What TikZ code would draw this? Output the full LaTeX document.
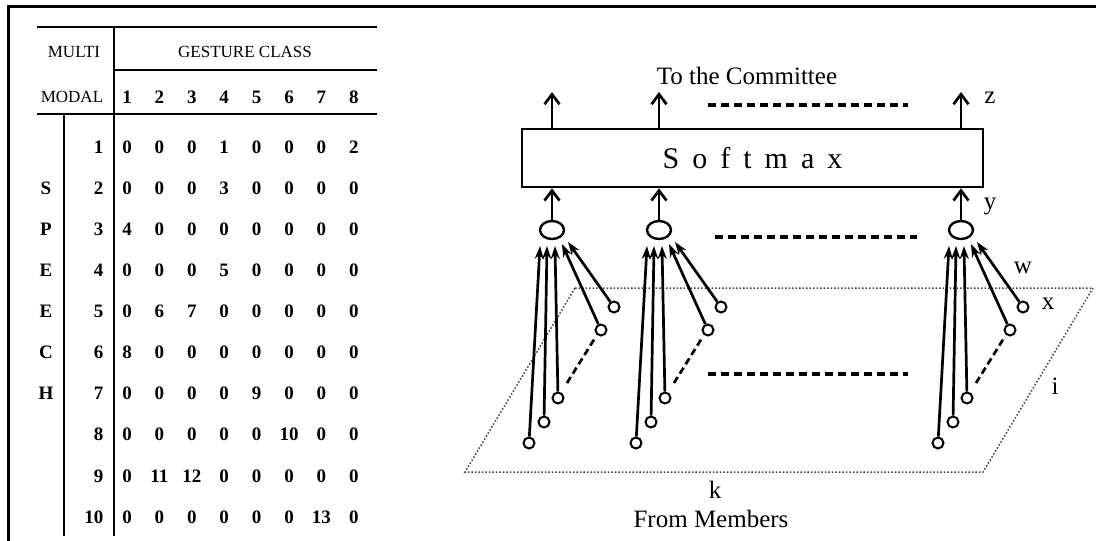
\documentclass[tikz,border=0pt]{standalone}
\usepackage{fontspec}
\setmainfont{Liberation Serif}
\usetikzlibrary{arrows.meta,positioning,shapes.geometric}
\tikzset{
  neuron/.style={ellipse,draw,line width=2.4pt,minimum width=24pt,minimum height=18pt,inner sep=0pt},
  inpt/.style={circle,draw,line width=2pt,minimum size=11pt,inner sep=0pt},
  smbox/.style={draw,line width=2.6pt,minimum width=461pt,minimum height=58pt,inner sep=0pt},
  wire/.style={line width=2.7pt},
  arr/.style={wire,-{Stealth[length=13pt,width=9pt]}},
  uparr/.style={wire,-{Straight Barb[length=10pt,width=15pt,line width=2.7pt]}},
  gapline/.style={line width=3.6pt,dash pattern=on 8pt off 5pt},
  lbl/.style={font=\fontsize{25}{29}\selectfont},
  tabnum/.style={font=\fontsize{19}{22}\selectfont\bfseries},
  hd/.style={font=\fontsize{17}{20}\selectfont},
  tabrule/.style={line width=2.3pt}
}
\begin{document}
\begin{tikzpicture}[x=1pt,y=-1pt]
  \useasboundingbox (0,0) rectangle (1096,541);
  % frame
  \draw[line width=3pt] (8,541) -- (8,6) -- (1096,6);

  % table
  \draw[tabrule] (37,27) -- (377,27);
  \draw[tabrule] (114,70) -- (377,70);
  \draw[tabrule] (37,114) -- (377,114);
  \draw[tabrule] (114,27) -- (114,536);
  \draw[tabrule] (64,114) -- (64,536);
  \node[hd] (multi) at (74,52) {MULTI};
  \node[hd] (modal) at (72,97) {MODAL};
  \node[hd] (gclass) at (245,52) {GESTURE CLASS};
  \foreach \c in {1,...,8}
    \node[tabnum] (h\c) at ({127+32.4*(\c-1)},97) {\c};
  \foreach \r/\vals in {1/{0,0,0,1,0,0,0,2},2/{0,0,0,3,0,0,0,0},3/{4,0,0,0,0,0,0,0},
      4/{0,0,0,5,0,0,0,0},5/{0,6,7,0,0,0,0,0},6/{8,0,0,0,0,0,0,0},7/{0,0,0,0,9,0,0,0},
      8/{0,0,0,0,0,10,0,0},9/{0,11,12,0,0,0,0,0},10/{0,0,0,0,0,0,13,0}}{
    \node[tabnum,anchor=east] (r\r) at (107,{147+41.1*(\r-1)}) {\r};
    \foreach \v [count=\c] in \vals
      \node[tabnum] (t\r-\c) at ({127+32.4*(\c-1)},{147+41.1*(\r-1)}) {\v};
  }
  \foreach \l [count=\r from 2] in {S,P,E,E,C,H}
    \node[tabnum] (sp\r) at (46,{147+41.1*(\r-1)}) {\l};

  % plane of member outputs
  \draw[dotted,line width=1.5pt,black!75] (575,288) -- (1093,288) -- (983,472) -- (465,472) -- cycle;

  \node[smbox] (sm) at (752.5,158) {\fontsize{30}{34}\selectfont\spaceskip=13pt S o f t m a x};
  \node[font=\fontsize{25}{30}\selectfont] (comm) at (747,76) {To the Committee};

  \foreach \g/\X in {1/552,2/659,3/961}{
    \node[neuron] (n\g) at (\X,230) {};
    \coordinate (out\g) at (\X,92);
    \draw[uparr] (n\g) -- (n\g |- sm.south);
    \draw[uparr] (n\g |- sm.north) -- (out\g);
    \foreach \k/\dx/\dy/\ex/\ey in {a/-23/443/-12/246,b/-8/422/-5/246,c/6/398/3/246,d/49/330/10/244,e/62/307/16/242}{
      \node[inpt] (x\g\k) at (\X+\dx,\dy) {};
      \coordinate (e\g\k) at (\X+\ex,\ey);
      \draw[arr] (x\g\k) -- (e\g\k);
    }
    \draw[wire,dash pattern=on 7pt off 4pt] (\X+15,383) -- (\X+43,338);
  }

  \draw[gapline] (708,105) -- (908,105);
  \draw[gapline] (715,237) -- (917,237);
  \draw[gapline] (708,374) -- (908,374);

  \node[lbl] (zl) at (990,98) {z};
  \node[lbl] (yl) at (990,206) {y};
  \node[lbl] (wl) at (1023,268) {w};
  \node[lbl] (xl) at (1048,304) {x};
  \node[lbl] (il) at (1055,386) {i};
  \node[lbl] (kl) at (715,490) {k};
  \node[font=\fontsize{25}{30}\selectfont] (from) at (711,519) {From Members};
\end{tikzpicture}
\end{document}
